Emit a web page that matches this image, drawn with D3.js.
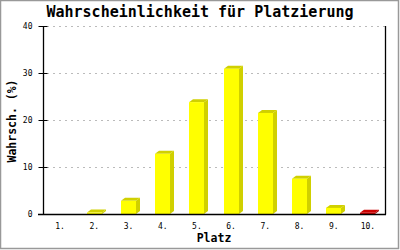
<!DOCTYPE html>
<html>
<head>
<meta charset="utf-8">
<script src="https://cdn.jsdelivr.net/npm/d3@7"></script>
<style>
  body { margin: 0; background: #fff; }
  svg { display: block; }
</style>
</head>
<body>
<script>
/**
 * DATA
 */
const places = ["1.", "2.", "3.", "4.", "5.", "6.", "7.", "8.", "9.", "10."];
const probs = [0, 0.3, 2.8, 12.8, 23.8, 30.9, 21.5, 7.5, 1.3, 0.25];
const yTicks = [0, 10, 20, 30, 40];
const redPlaces = ["10."];

/**
 * CONSTANTS
 */
const W = 400, H = 250;
const LEFT = 43, RIGHT = 385, TOP = 26, BOTTOM = 214;
const BAR_W = 15;
const DX = 4, DY = 3; // 3d offset
const MONO = "'DejaVu Sans Mono', 'Liberation Mono', monospace";

const svg = d3.select("body").append("svg")
  .attr("width", W)
  .attr("height", H);

// outer frame
svg.append("rect")
  .attr("x", 0.5).attr("y", 0.5)
  .attr("width", W - 2).attr("height", H - 2)
  .attr("fill", "#fff")
  .attr("stroke", "#999")
  .attr("stroke-width", 1.5);

const x = d3.scaleBand().domain(places).range([LEFT, RIGHT]);
const y = d3.scaleLinear().domain([0, 40]).range([BOTTOM, TOP]);

// grid
svg.append("g")
  .selectAll("line")
  .data(yTicks.filter((d) => d > 0))
  .join("line")
  .attr("x1", LEFT + 4).attr("x2", RIGHT)
  .attr("y1", (d) => Math.round(y(d)) + 0.5)
  .attr("y2", (d) => Math.round(y(d)) + 0.5)
  .attr("stroke", "#bbb")
  .attr("stroke-dasharray", "2,4");

// bars
const bars = svg.append("g")
  .selectAll("g")
  .data(places.map((p, i) => ({ p, v: probs[i] })).filter((d) => d.v > 0))
  .join("g");

const isRed = (d) => redPlaces.includes(d.p);
const x0 = (d) => Math.round(x(d.p) + x.bandwidth() / 2 - BAR_W / 2);

bars.append("polygon") // side
  .attr("fill", (d) => (isRed(d) ? "#990000" : "#d0d000"))
  .attr("points", (d) => {
    const a = x0(d) + BAR_W, t = y(d.v);
    return [[a, t], [a + DX, t - DY], [a + DX, BOTTOM - DY], [a, BOTTOM]].join(" ");
  });

bars.append("polygon") // top
  .attr("fill", (d) => (isRed(d) ? "#cc0000" : "#d0d000"))
  .attr("points", (d) => {
    const a = x0(d), t = y(d.v);
    return [[a, t], [a + DX, t - DY], [a + BAR_W + DX, t - DY], [a + BAR_W, t]].join(" ");
  });

bars.append("rect") // front
  .attr("x", x0)
  .attr("y", (d) => y(d.v))
  .attr("width", BAR_W)
  .attr("height", (d) => BOTTOM - y(d.v))
  .attr("fill", (d) => (isRed(d) ? "#cc0000" : "#ffff00"));

// axes
const yAxis = svg.append("g")
  .attr("transform", `translate(${LEFT + 0.5},0)`)
  .call(d3.axisLeft(y).tickValues(yTicks).tickSize(5).tickPadding(6));
yAxis.selectAll(".tick line").attr("x2", -5).attr("x1", 4).attr("stroke", "#000");
yAxis.select(".domain").remove();
yAxis.selectAll("text")
  .attr("font-family", MONO)
  .attr("font-size", "8px")
  .attr("fill", "#000");

svg.append("line")
  .attr("x1", LEFT + 0.5).attr("x2", LEFT + 0.5)
  .attr("y1", TOP).attr("y2", BOTTOM + 0.5)
  .attr("stroke", "#000").attr("stroke-width", 1.3);
svg.append("line")
  .attr("x1", RIGHT + 0.5).attr("x2", RIGHT + 0.5)
  .attr("y1", TOP).attr("y2", BOTTOM + 0.5)
  .attr("stroke", "#000").attr("stroke-width", 1.3);
svg.append("line")
  .attr("x1", LEFT - 5).attr("x2", RIGHT + 1)
  .attr("y1", BOTTOM + 0.5).attr("y2", BOTTOM + 0.5)
  .attr("stroke", "#000").attr("stroke-width", 1.3);

const xAxis = svg.append("g")
  .attr("transform", `translate(0,${BOTTOM})`)
  .call(d3.axisBottom(x).tickSize(0).tickPadding(9));
xAxis.select(".domain").remove();
xAxis.selectAll("text")
  .attr("font-family", MONO)
  .attr("font-size", "8px")
  .attr("fill", "#000");

// titles
svg.append("text")
  .attr("x", 200).attr("y", 17)
  .attr("text-anchor", "middle")
  .attr("font-family", MONO)
  .attr("font-weight", "bold")
  .attr("font-size", "15px")
  .text("Wahrscheinlichkeit für Platzierung");

svg.append("text")
  .attr("x", 214).attr("y", 242)
  .attr("text-anchor", "middle")
  .attr("font-family", MONO)
  .attr("font-weight", "bold")
  .attr("font-size", "11.5px")
  .text("Platz");

svg.append("text")
  .attr("transform", "translate(16,121) rotate(-90)")
  .attr("text-anchor", "middle")
  .attr("font-family", MONO)
  .attr("font-weight", "bold")
  .attr("font-size", "11.5px")
  .text("Wahrsch. (%)");
</script>
</body>
</html>
